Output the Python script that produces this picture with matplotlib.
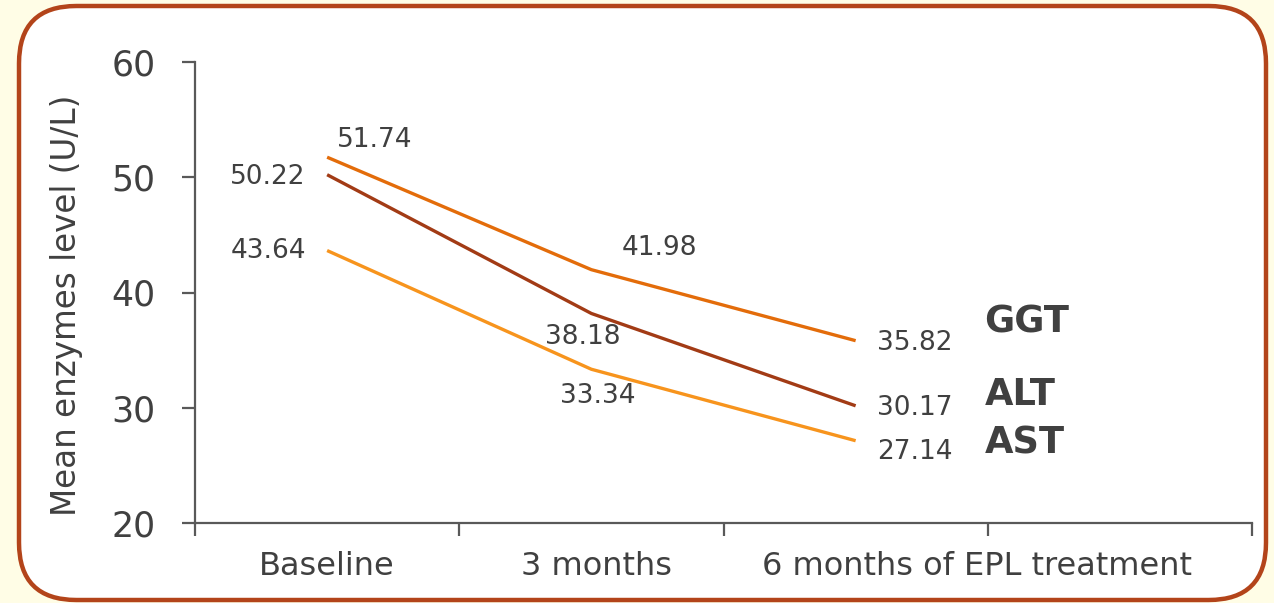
import matplotlib.pyplot as plt
from matplotlib.patches import FancyBboxPatch

plt.rcParams['font.family'] = ['DejaVu Sans']

periods = ['Baseline', '3 months', '6 months of EPL treatment']
ggt = [51.74, 41.98, 35.82]
alt = [50.22, 38.18, 30.17]
ast = [43.64, 33.34, 27.14]

series = [
    ('GGT', ggt, '#E36C0A'),
    ('ALT', alt, '#A23B15'),
    ('AST', ast, '#F7941D'),
]

# label offsets in pixels for each point
label_offsets = {
    'GGT': [(48, 17), (68, 22), (59, -2)],
    'ALT': [(-59, -2), (-9, -24), (59, -2)],
    'AST': [(-59, 0), (6, -27), (59, -11)],
}
name_offsets = {'GGT': (129, 19), 'ALT': (129, 11), 'AST': (129, -2)}

text_color = '#404040'
axis_color = '#595959'

fig = plt.figure(figsize=(12.74, 6.03), dpi=100)
fig.patch.set_facecolor('#FFFDE6')

# rounded white panel behind the axes
panel = FancyBboxPatch((19 / 1274, 3 / 603), 1247 / 1274, 594 / 603,
                       boxstyle='round,pad=0,rounding_size=0.045',
                       transform=fig.transFigure, facecolor='white',
                       edgecolor='#B3441A', linewidth=3.2,
                       mutation_aspect=1274 / 603, zorder=-5)
fig.patches.append(panel)

ax = fig.add_axes([195 / 1274, 1 - 523 / 603, (1252 - 195) / 1274, (523 - 62) / 603])
ax.set_facecolor('none')
ax.set_zorder(2)

# four category slots, the last one left empty for the series names
x = list(range(len(periods)))
for name, vals, color in series:
    ax.plot(x, vals, color=color, linewidth=2.4, solid_capstyle='butt')
    for i, v in enumerate(vals):
        dx, dy = label_offsets[name][i]
        ax.annotate(f'{v:.2f}', (i, v), xytext=(dx, dy), textcoords='offset pixels',
                    ha='center', va='center', fontsize=19, color=text_color)
    dx, dy = name_offsets[name]
    ax.annotate(name, (len(vals) - 1, vals[-1]), xytext=(dx, dy), textcoords='offset pixels',
                ha='left', va='center', fontsize=26.5, fontweight='bold', color=text_color)

ax.set_xlim(-0.5, 3.5)
ax.set_ylim(20, 60)
ax.set_yticks([20, 30, 40, 50, 60])
ax.set_xticks([0, 1.02, 2.46])
ax.set_xticklabels(periods)
ax.set_xticks([-0.5, 0.5, 1.5, 2.5, 3.5], minor=True)

for side in ['top', 'right']:
    ax.spines[side].set_visible(False)
for side in ['left', 'bottom']:
    ax.spines[side].set_color(axis_color)
    ax.spines[side].set_linewidth(1.6)

ax.tick_params(axis='y', length=9.4, width=1.6, color=axis_color, labelsize=25,
               labelcolor=text_color, pad=19)
ax.tick_params(axis='x', which='major', length=0, labelsize=23, labelcolor=text_color, pad=20)
ax.tick_params(axis='x', which='minor', length=9.4, width=1.6, color=axis_color)

ax.set_ylabel('Mean enzymes level (U/L)', fontsize=23.5, color=text_color)
ax.yaxis.set_label_coords(-0.106, 0.473)

fig.savefig('out.png', dpi=100, facecolor=fig.get_facecolor())
